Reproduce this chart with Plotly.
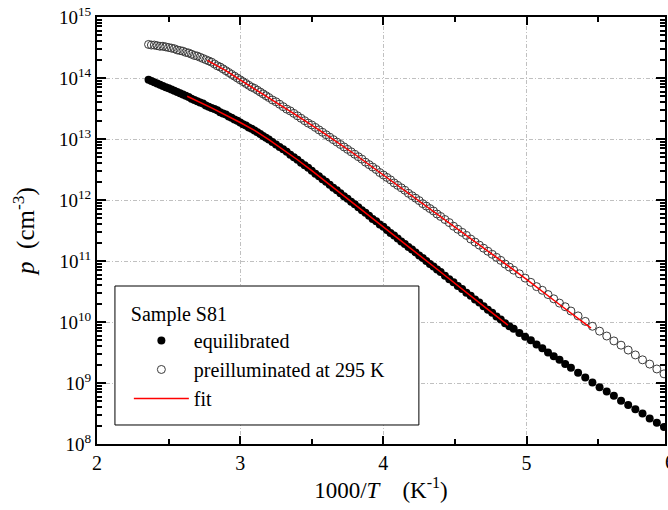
import plotly.graph_objects as go

# 1000/T values (K^-1) shared by both measured series
inv_T = [2.36, 2.38, 2.40, 2.42, 2.44, 2.46, 2.48, 2.50, 2.52, 2.54, 2.56, 2.58, 2.60, 2.62, 2.64,
         2.66, 2.68, 2.70, 2.72, 2.74, 2.76, 2.78, 2.80, 2.82, 2.84, 2.86, 2.88, 2.90, 2.92, 2.94,
         2.96, 2.98, 3.00, 3.02, 3.04, 3.06, 3.08, 3.10, 3.12, 3.14, 3.16, 3.18, 3.20,
         3.225, 3.25, 3.275, 3.30, 3.325, 3.35, 3.375, 3.40, 3.425, 3.45, 3.475, 3.50,
         3.525, 3.55, 3.575, 3.60, 3.625, 3.65, 3.675, 3.70, 3.725, 3.75, 3.775, 3.80,
         3.825, 3.85, 3.875, 3.90, 3.925, 3.95, 3.975, 4.00, 4.025, 4.05, 4.075, 4.10,
         4.125, 4.15, 4.175, 4.20, 4.225, 4.25, 4.275, 4.30, 4.325, 4.35, 4.375, 4.40,
         4.43, 4.46, 4.49, 4.52, 4.55, 4.58, 4.61, 4.64, 4.67, 4.70, 4.73, 4.76, 4.79, 4.82,
         4.85, 4.88, 4.91,
         4.95, 4.99, 5.03, 5.07, 5.11, 5.15, 5.19, 5.23, 5.27, 5.31,
         5.36, 5.41, 5.46, 5.51, 5.56, 5.61, 5.66, 5.71, 5.76, 5.81, 5.86, 5.91, 5.96]

# log10 p (cm^-3), equilibrated
log_p_equil = [13.97, 13.95, 13.93, 13.91, 13.89, 13.87, 13.85, 13.83, 13.81, 13.79, 13.77, 13.75,
               13.73, 13.71, 13.69, 13.66, 13.64, 13.62, 13.60, 13.58, 13.55, 13.53, 13.51, 13.49,
               13.47, 13.44, 13.42, 13.40, 13.37, 13.35, 13.32, 13.30, 13.27, 13.24, 13.22, 13.19,
               13.17, 13.14, 13.11, 13.08, 13.05, 13.02, 12.99,
               12.95, 12.91, 12.87, 12.83, 12.79, 12.74, 12.70, 12.66, 12.61, 12.57, 12.53, 12.48,
               12.43, 12.39, 12.34, 12.30, 12.25, 12.20, 12.16, 12.11, 12.06, 12.02, 11.97, 11.93,
               11.88, 11.83, 11.79, 11.74, 11.69, 11.65, 11.60, 11.56, 11.51, 11.46, 11.42, 11.37,
               11.32, 11.28, 11.23, 11.19, 11.14, 11.09, 11.05, 11.00, 10.95, 10.91, 10.86, 10.82,
               10.76, 10.70, 10.65, 10.59, 10.54, 10.48, 10.43, 10.37, 10.32, 10.26, 10.20, 10.15,
               10.09, 10.04, 9.98, 9.93, 9.89,
               9.82, 9.76, 9.70, 9.63, 9.57, 9.50, 9.44, 9.38, 9.31, 9.25,
               9.17, 9.09, 9.01, 8.93, 8.86, 8.79, 8.71, 8.64, 8.57, 8.50, 8.42, 8.35, 8.28]

# log10 p (cm^-3), preilluminated at 295 K
log_p_preill = [14.55, 14.54, 14.54, 14.53, 14.52, 14.52, 14.51, 14.50, 14.49, 14.48, 14.46, 14.45,
                14.44, 14.42, 14.41, 14.39, 14.37, 14.36, 14.34, 14.32, 14.30, 14.28, 14.26, 14.23,
                14.20, 14.18, 14.15, 14.12, 14.09, 14.06, 14.03, 14.00, 13.97, 13.94, 13.91, 13.88,
                13.85, 13.83, 13.80, 13.77, 13.74, 13.71, 13.68,
                13.64, 13.61, 13.57, 13.53, 13.49, 13.46, 13.42, 13.38, 13.34, 13.30, 13.26, 13.23,
                13.19, 13.15, 13.11, 13.07, 13.03, 12.99, 12.95, 12.91, 12.87, 12.83, 12.79, 12.75,
                12.71, 12.67, 12.62, 12.58, 12.54, 12.50, 12.45, 12.41, 12.37, 12.33, 12.28, 12.24,
                12.20, 12.16, 12.11, 12.07, 12.03, 11.99, 11.94, 11.90, 11.86, 11.82, 11.77, 11.73,
                11.68, 11.63, 11.57, 11.52, 11.47, 11.42, 11.36, 11.31, 11.26, 11.21, 11.16, 11.11,
                11.06, 11.01, 10.95, 10.90, 10.85,
                10.79, 10.72, 10.65, 10.58, 10.52, 10.45, 10.38, 10.31, 10.25, 10.18,
                10.10, 10.01, 9.93, 9.85, 9.77, 9.69, 9.62, 9.54, 9.46, 9.38, 9.31, 9.23, 9.15]

# fit curves
fit_equil_x = [2.63, 2.80, 3.00, 3.10, 3.20, 3.30, 3.40, 3.50, 3.80, 4.10, 4.40, 4.70, 4.87]
fit_equil_log = [13.70, 13.51, 13.27, 13.14, 12.99, 12.83, 12.66, 12.48, 11.93, 11.37, 10.82, 10.26, 9.95]
fit_preill_x = [2.77, 2.90, 3.00, 3.20, 3.40, 3.60, 3.80, 4.00, 4.20, 4.40, 4.60, 4.80, 5.00, 5.20, 5.45]
fit_preill_log = [14.29, 14.12, 13.97, 13.68, 13.38, 13.07, 12.75, 12.41, 12.07, 11.73, 11.38, 11.04,
                  10.70, 10.34, 9.90]

x_tick_vals = [2, 3, 4, 5]
y_decades = [8, 9, 10, 11, 12, 13, 14, 15]

FONT = "Liberation Serif"

fig = go.Figure()
fig.add_trace(go.Scatter(
    x=inv_T, y=[10 ** v for v in log_p_equil], mode="markers", name="equilibrated",
    marker=dict(symbol="circle", size=8, color="black", line=dict(width=0)),
))
fig.add_trace(go.Scatter(
    x=inv_T, y=[10 ** v for v in log_p_preill], mode="markers", name="preilluminated at 295 K",
    marker=dict(symbol="circle-open", size=8, color="#3a3a3a", line=dict(width=1)),
))
fig.add_trace(go.Scatter(
    x=fit_equil_x, y=[10 ** v for v in fit_equil_log], mode="lines", name="fit",
    line=dict(color="red", width=1.5), legendgroup="fit",
))
fig.add_trace(go.Scatter(
    x=fit_preill_x, y=[10 ** v for v in fit_preill_log], mode="lines", name="fit",
    line=dict(color="red", width=1.5), legendgroup="fit", showlegend=False,
))

grid_style = dict(showgrid=True, gridcolor="#c0c0c0", gridwidth=1, griddash="4px,2px,1px,2px")

fig.update_xaxes(
    range=[2, 5.967], tickvals=x_tick_vals, ticktext=[str(v) for v in x_tick_vals],
    ticks="inside", ticklen=8, tickwidth=2, tickcolor="black",
    showline=True, linecolor="black", linewidth=2, mirror="ticks",
    minor=dict(dtick=0.5, ticks="inside", ticklen=5, tickwidth=2, tickcolor="black", showgrid=False),
    tickfont=dict(family=FONT, size=20, color="black"),
    title=dict(text="1000/<i>T</i>&nbsp;&nbsp;&nbsp;&nbsp;(K<sup>-1</sup>)",
               font=dict(family=FONT, size=23, color="black"), standoff=2),
    zeroline=False, **grid_style,
)
fig.update_yaxes(
    type="log", range=[8, 15],
    tickvals=[10 ** d for d in y_decades], ticktext=["10<sup>%d</sup>" % d for d in y_decades],
    ticks="inside", ticklen=9, tickwidth=2, tickcolor="black",
    showline=True, linecolor="black", linewidth=2, mirror="ticks",
    minor=dict(dtick="D1", ticks="inside", ticklen=5, tickwidth=2, tickcolor="black", showgrid=False),
    tickfont=dict(family=FONT, size=19, color="black"),
    title=dict(text="<i>p</i>&nbsp;&nbsp;(cm<sup>-3</sup>)", font=dict(family=FONT, size=25, color="black"),
               standoff=17),
    zeroline=False, **grid_style,
)

fig.add_annotation(xref="paper", yref="paper", x=1.0088, y=-0.012, yanchor="top", xanchor="center",
                   text="6", showarrow=False, font=dict(family=FONT, size=20, color="black"))

# legend frame
fig.add_shape(type="rect", xref="paper", yref="paper", x0=0.0316, x1=0.5667, y0=0.0445, y1=0.370,
              line=dict(color="black", width=1), fillcolor="white", layer="above")

fig.update_layout(
    width=668, height=510,
    margin=dict(l=97, r=1, t=17, b=66),
    paper_bgcolor="white", plot_bgcolor="white",
    font=dict(family=FONT, color="black"),
    legend=dict(
        x=0.0561, y=0.349, xanchor="left", yanchor="top",
        borderwidth=0, bgcolor="rgba(0,0,0,0)",
        font=dict(family=FONT, size=20, color="black"),
        title=dict(text="Sample S81", font=dict(family=FONT, size=20, color="black")),
        itemwidth=55, tracegroupgap=0,
    ),
)

fig.write_html("out.html")
